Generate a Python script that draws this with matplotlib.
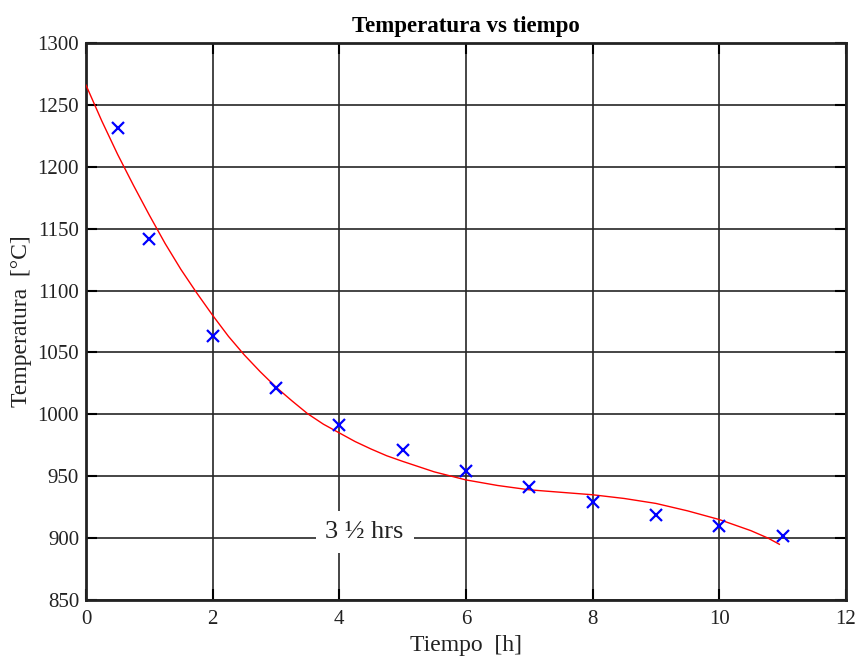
import matplotlib.pyplot as plt

# mediciones (tiempo en h, temperatura en °C)
tiempo = [0.5, 1, 2, 3, 4, 5, 6, 7, 8, 9, 10, 11]
temperatura = [1231, 1142, 1063, 1021, 991, 971, 954, 941, 929, 919, 910, 902]

# curva de ajuste
ajuste_t = [0, 0.25, 0.5, 0.75, 1, 1.25, 1.5, 1.75, 2, 2.25, 2.5, 2.75, 3, 3.25, 3.5,
            3.75, 4, 4.25, 4.5, 4.75, 5, 5.5, 6, 6.5, 7, 7.5, 8, 8.5, 9, 9.5, 10, 10.5, 10.77, 10.95]
ajuste_T = [1266, 1237, 1210, 1185, 1161, 1138, 1117, 1098, 1080, 1063, 1048, 1034.5, 1022, 1011, 1000.5,
            992, 985, 978, 972, 966.5, 962, 953.5, 947, 942.5, 939, 937, 935, 932, 928, 922, 915, 906, 900, 895]

plt.rcParams['font.family'] = ['Liberation Serif', 'DejaVu Serif']

fig = plt.figure(figsize=(8.57, 6.57), dpi=100)
ax = fig.add_axes([0.1003, 0.0868, 0.8867, 0.8478])

ax.plot(ajuste_t, ajuste_T, color='red', linewidth=1.0, zorder=3)
ax.plot(tiempo, temperatura, linestyle='none', marker='x', color='blue',
        markersize=9, markeredgewidth=1.6, zorder=4)

ax.set_xlim(0, 12)
ax.set_ylim(850, 1300)
ax.set_xticks(range(0, 13, 2))
ax.set_yticks(range(850, 1301, 50))
ax.grid(True, color='#262626', linewidth=1.2)
ax.set_axisbelow(True)
ax.tick_params(direction='in', length=8, width=1.5, labelsize=15,
               top=True, right=True, colors='black', labelcolor='#222222')
ax.tick_params(axis='x', pad=7)
ax.tick_params(axis='y', pad=5)
for s in ax.spines.values():
    s.set_linewidth(2)
    s.set_color('#222222')

ax.set_title('Temperatura vs tiempo', fontsize=16.5, fontweight='bold', pad=8)
ax.set_xlabel('Tiempo  [h]', fontsize=17, color='#222222', labelpad=4.5)
ax.set_ylabel('Temperatura  [°C]', fontsize=17, color='#222222', labelpad=4)

ax.text(4.4, 905, '3 ½ hrs', fontsize=19, color='#222222', ha='center', va='center',
        zorder=5, bbox=dict(facecolor='white', edgecolor='none', pad=7))

fig.savefig('out.png', dpi=100)
